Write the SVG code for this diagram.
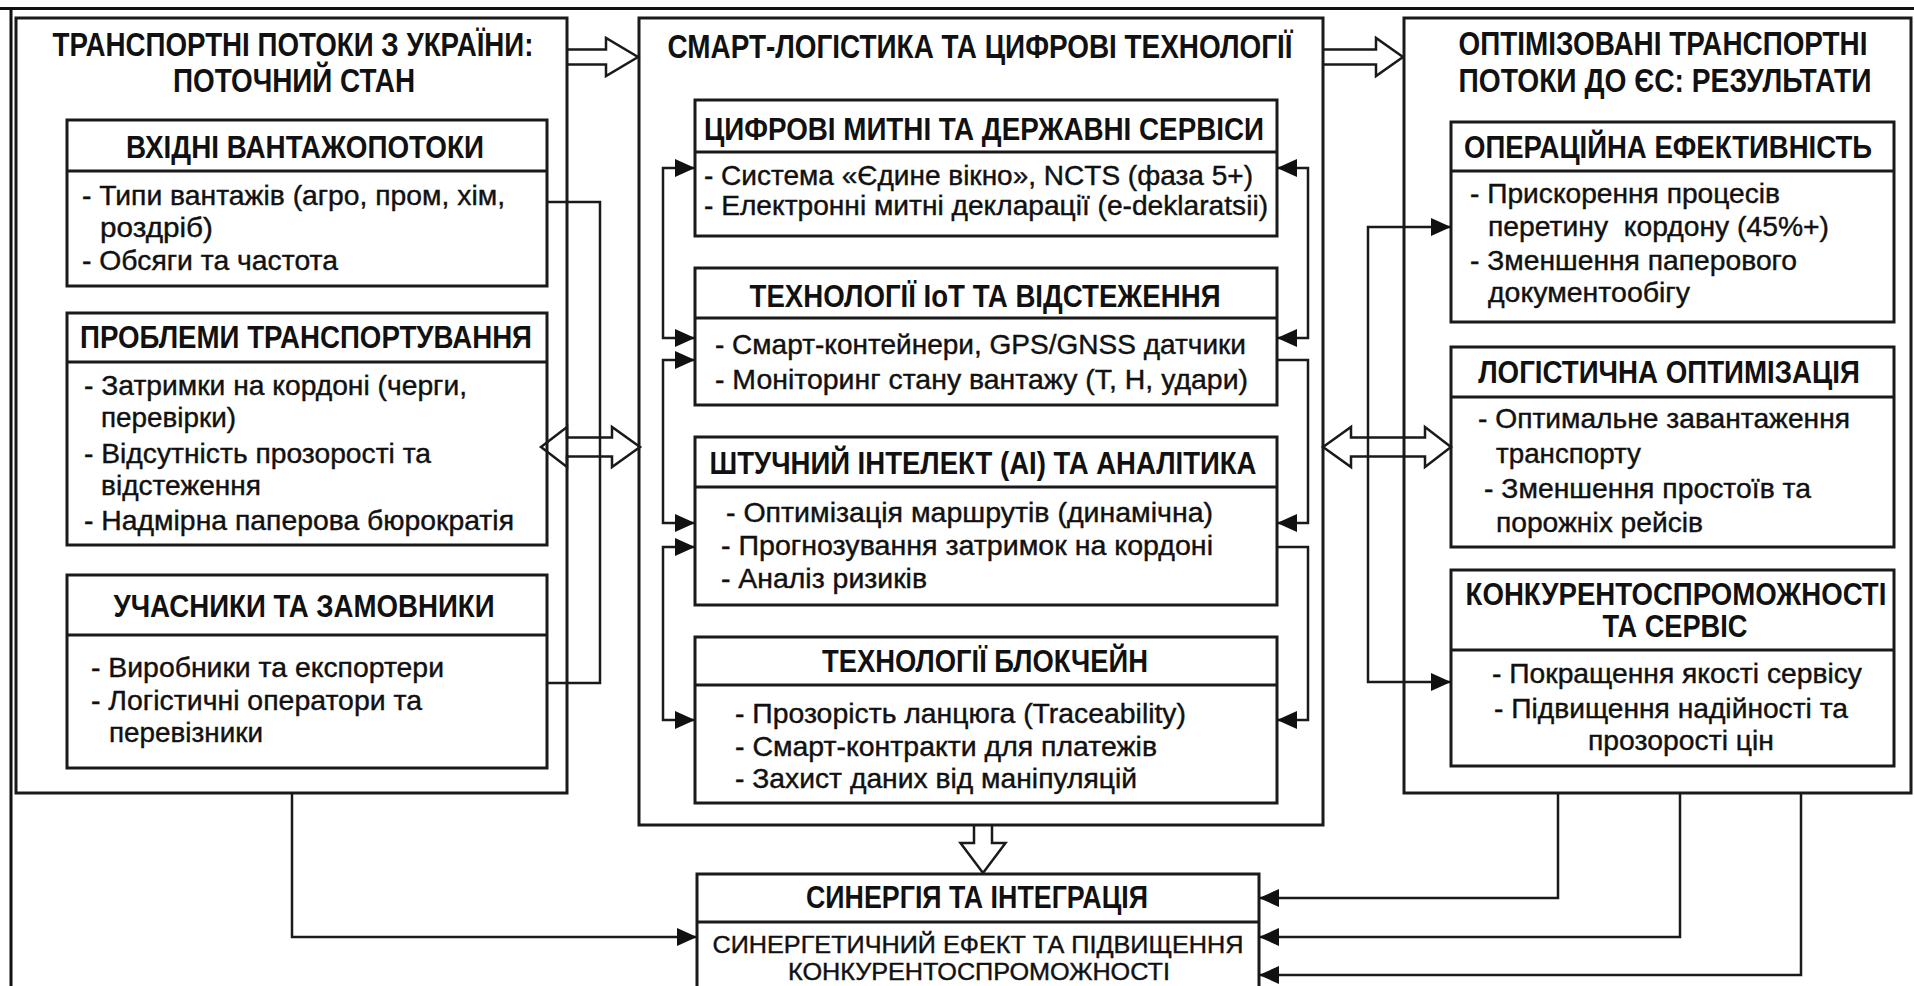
<svg xmlns="http://www.w3.org/2000/svg" width="1914" height="986" viewBox="0 0 1914 986">
<defs>
<style>
.frame{fill:none;stroke:#111;stroke-width:3}
.box{fill:#fff;stroke:#1a1a1a;stroke-width:3}
.dv{stroke:#1a1a1a;stroke-width:3}
text{font-family:"Liberation Sans Narrow","Liberation Sans",Arial,sans-serif;fill:#111}
.t{font-size:34px;font-weight:bold;text-anchor:middle}
.h{font-size:31px;font-weight:bold;text-anchor:middle}
.b{font-size:27.5px;stroke:#111;stroke-width:0.4}
.bc{font-size:27.5px;text-anchor:middle;stroke:#111;stroke-width:0.4}
.bs{font-size:24px;text-anchor:middle;stroke:#111;stroke-width:0.4}
.c{fill:none;stroke:#1a1a1a;stroke-width:2.5}
.fat{fill:none;stroke:#1a1a1a;stroke-width:2.5;stroke-linejoin:miter}
</style>
<marker id="ah" markerUnits="userSpaceOnUse" markerWidth="20" markerHeight="18" refX="20" refY="9" orient="auto-start-reverse" viewBox="0 0 20 18"><path d="M0,0 L20,9 L0,18 Z" fill="#111"/></marker>
</defs>
<rect width="1914" height="986" fill="#fff"/>
<g id="frame">
<line class="frame" x1="0" y1="8.5" x2="1914" y2="8.5"/>
<line class="frame" x1="11" y1="7" x2="11" y2="986"/>
</g>

<g id="left-box">
<rect class="box" x="16" y="18" width="551" height="775"/>
<text class="t" x="293" y="56" textLength="481" lengthAdjust="spacingAndGlyphs">ТРАНСПОРТНІ ПОТОКИ З УКРАЇНИ:</text>
<text class="t" x="294" y="92" textLength="242" lengthAdjust="spacingAndGlyphs">ПОТОЧНИЙ СТАН</text>
</g>
<g id="left-inputs">
<rect class="box" x="67" y="120" width="480" height="166"/>
<line class="dv" x1="67" y1="171" x2="547" y2="171"/>
<text class="h" x="305" y="158" textLength="358" lengthAdjust="spacingAndGlyphs">ВХІДНІ ВАНТАЖОПОТОКИ</text>
<text class="b" x="82" y="205" textLength="423" lengthAdjust="spacingAndGlyphs">- Типи вантажів (агро, пром, хім,</text>
<text class="b" x="100" y="237" textLength="113" lengthAdjust="spacingAndGlyphs">роздріб)</text>
<text class="b" x="82" y="270" textLength="256" lengthAdjust="spacingAndGlyphs">- Обсяги та частота</text>
</g>
<g id="left-problems">
<rect class="box" x="67" y="313" width="480" height="232"/>
<line class="dv" x1="67" y1="362" x2="547" y2="362"/>
<text class="h" x="306" y="348" textLength="452" lengthAdjust="spacingAndGlyphs">ПРОБЛЕМИ ТРАНСПОРТУВАННЯ</text>
<text class="b" x="84" y="395" textLength="383" lengthAdjust="spacingAndGlyphs">- Затримки на кордоні (черги,</text>
<text class="b" x="101" y="427" textLength="135" lengthAdjust="spacingAndGlyphs">перевірки)</text>
<text class="b" x="84" y="463" textLength="347" lengthAdjust="spacingAndGlyphs">- Відсутність прозорості та</text>
<text class="b" x="101" y="495" textLength="160" lengthAdjust="spacingAndGlyphs">відстеження</text>
<text class="b" x="84" y="530" textLength="430" lengthAdjust="spacingAndGlyphs">- Надмірна паперова бюрократія</text>
</g>
<g id="left-actors">
<rect class="box" x="67" y="575" width="480" height="193"/>
<line class="dv" x1="67" y1="635" x2="547" y2="635"/>
<text class="h" x="304" y="617" textLength="381" lengthAdjust="spacingAndGlyphs">УЧАСНИКИ ТА ЗАМОВНИКИ</text>
<text class="b" x="91" y="677" textLength="353" lengthAdjust="spacingAndGlyphs">- Виробники та експортери</text>
<text class="b" x="91" y="710" textLength="331" lengthAdjust="spacingAndGlyphs">- Логістичні оператори та</text>
<text class="b" x="109" y="742" textLength="154" lengthAdjust="spacingAndGlyphs">перевізники</text>
</g>

<g id="mid-box">
<rect class="box" x="639" y="18" width="684" height="807"/>
<text class="t" x="980" y="58" textLength="625" lengthAdjust="spacingAndGlyphs">СМАРТ-ЛОГІСТИКА ТА ЦИФРОВІ ТЕХНОЛОГІЇ</text>
</g>
<g id="mid-customs">
<rect class="box" x="695" y="100" width="582" height="136"/>
<line class="dv" x1="695" y1="152" x2="1277" y2="152"/>
<text class="h" x="984" y="140" textLength="560" lengthAdjust="spacingAndGlyphs">ЦИФРОВІ МИТНІ ТА ДЕРЖАВНІ СЕРВІСИ</text>
<text class="b" x="704" y="185" textLength="549" lengthAdjust="spacingAndGlyphs">- Система «Єдине вікно», NCTS (фаза 5+)</text>
<text class="b" x="704" y="215" textLength="564" lengthAdjust="spacingAndGlyphs">- Електронні митні декларації (e-deklaratsii)</text>
</g>
<g id="mid-iot">
<rect class="box" x="695" y="268" width="582" height="137"/>
<line class="dv" x1="695" y1="318" x2="1277" y2="318"/>
<text class="h" x="985" y="307" textLength="471" lengthAdjust="spacingAndGlyphs">ТЕХНОЛОГІЇ IoT ТА ВІДСТЕЖЕННЯ</text>
<text class="b" x="715" y="354" textLength="531" lengthAdjust="spacingAndGlyphs">- Смарт-контейнери, GPS/GNSS датчики</text>
<text class="b" x="715" y="389" textLength="533" lengthAdjust="spacingAndGlyphs">- Моніторинг стану вантажу (Т, Н, удари)</text>
</g>
<g id="mid-ai">
<rect class="box" x="695" y="437" width="582" height="168"/>
<line class="dv" x1="695" y1="487" x2="1277" y2="487"/>
<text class="h" x="983" y="474" textLength="547" lengthAdjust="spacingAndGlyphs">ШТУЧНИЙ ІНТЕЛЕКТ (AI) ТА АНАЛІТИКА</text>
<text class="b" x="726" y="522" textLength="487" lengthAdjust="spacingAndGlyphs">- Оптимізація маршрутів (динамічна)</text>
<text class="b" x="721" y="555" textLength="492" lengthAdjust="spacingAndGlyphs">- Прогнозування затримок на кордоні</text>
<text class="b" x="721" y="588" textLength="206" lengthAdjust="spacingAndGlyphs">- Аналіз ризиків</text>
</g>
<g id="mid-blockchain">
<rect class="box" x="695" y="637" width="582" height="166"/>
<line class="dv" x1="695" y1="685" x2="1277" y2="685"/>
<text class="h" x="985" y="672" textLength="326" lengthAdjust="spacingAndGlyphs">ТЕХНОЛОГІЇ БЛОКЧЕЙН</text>
<text class="b" x="735" y="723" textLength="451" lengthAdjust="spacingAndGlyphs">- Прозорість ланцюга (Traceability)</text>
<text class="b" x="735" y="756" textLength="422" lengthAdjust="spacingAndGlyphs">- Смарт-контракти для платежів</text>
<text class="b" x="735" y="788" textLength="402" lengthAdjust="spacingAndGlyphs">- Захист даних від маніпуляцій</text>
</g>

<g id="right-box">
<rect class="box" x="1404" y="18" width="507" height="775"/>
<text class="t" transform="translate(1663 55) scale(0.8 1)" x="0" y="0" textLength="511" lengthAdjust="spacingAndGlyphs">ОПТІМІЗОВАНІ ТРАНСПОРТНІ</text>
<text class="t" transform="translate(1665 92) scale(0.8 1)" x="0" y="0" textLength="516" lengthAdjust="spacingAndGlyphs">ПОТОКИ ДО ЄС: РЕЗУЛЬТАТИ</text>
</g>
<g id="right-efficiency">
<rect class="box" x="1451" y="122" width="443" height="200"/>
<line class="dv" x1="1451" y1="171" x2="1894" y2="171"/>
<text class="h" transform="translate(1668 158) scale(0.8 1)" x="0" y="0" textLength="510" lengthAdjust="spacingAndGlyphs">ОПЕРАЦІЙНА ЕФЕКТИВНІСТЬ</text>
<text class="b" x="1470" y="203" textLength="310" lengthAdjust="spacingAndGlyphs">- Прискорення процесів</text>
<text class="b" x="1488" y="236" textLength="341" lengthAdjust="spacingAndGlyphs" xml:space="preserve">перетину  кордону (45%+)</text>
<text class="b" x="1470" y="270" textLength="327" lengthAdjust="spacingAndGlyphs">- Зменшення паперового</text>
<text class="b" x="1488" y="302" textLength="202" lengthAdjust="spacingAndGlyphs">документообігу</text>
</g>
<g id="right-optimization">
<rect class="box" x="1451" y="347" width="443" height="200"/>
<line class="dv" x1="1451" y1="397" x2="1894" y2="397"/>
<text class="h" transform="translate(1669 383) scale(0.8 1)" x="0" y="0" textLength="477" lengthAdjust="spacingAndGlyphs">ЛОГІСТИЧНА ОПТИМІЗАЦІЯ</text>
<text class="b" x="1478" y="428" textLength="372" lengthAdjust="spacingAndGlyphs">- Оптимальне завантаження</text>
<text class="b" x="1496" y="463" textLength="145" lengthAdjust="spacingAndGlyphs">транспорту</text>
<text class="b" x="1484" y="498" textLength="327" lengthAdjust="spacingAndGlyphs">- Зменшення простоїв та</text>
<text class="b" x="1496" y="532" textLength="207" lengthAdjust="spacingAndGlyphs">порожніх рейсів</text>
</g>
<g id="right-competitiveness">
<rect class="box" x="1451" y="570" width="443" height="196"/>
<line class="dv" x1="1451" y1="650" x2="1894" y2="650"/>
<text class="h" transform="translate(1676 605) scale(0.8 1)" x="0" y="0" textLength="526" lengthAdjust="spacingAndGlyphs">КОНКУРЕНТОСПРОМОЖНОСТІ</text>
<text class="h" x="1675" y="637" textLength="145" lengthAdjust="spacingAndGlyphs">ТА СЕРВІС</text>
<text class="bc" x="1677" y="683" textLength="370" lengthAdjust="spacingAndGlyphs">- Покращення якості сервісу</text>
<text class="bc" x="1671" y="718" textLength="354" lengthAdjust="spacingAndGlyphs">- Підвищення надійності та</text>
<text class="bc" x="1681" y="750" textLength="186" lengthAdjust="spacingAndGlyphs">прозорості цін</text>
</g>

<g id="synergy">
<rect class="box" x="697" y="874" width="562" height="130"/>
<line class="dv" x1="697" y1="922" x2="1259" y2="922"/>
<text class="h" x="977" y="908" textLength="342" lengthAdjust="spacingAndGlyphs">СИНЕРГІЯ ТА ІНТЕГРАЦІЯ</text>
<text class="bs" x="978" y="953" textLength="531" lengthAdjust="spacingAndGlyphs">СИНЕРГЕТИЧНИЙ ЕФЕКТ ТА ПІДВИЩЕННЯ</text>
<text class="bs" x="979" y="980" textLength="382" lengthAdjust="spacingAndGlyphs">КОНКУРЕНТОСПРОМОЖНОСТІ</text>
</g>

<g id="connectors">
<polyline class="c" points="547,202 600,202 600,683 547,683"/>
<path class="c" d="M695,168 L663,168 L663,338 L695,338" marker-start="url(#ah)" marker-end="url(#ah)"/>
<path class="c" d="M695,360 L663,360 L663,523 L695,523" marker-start="url(#ah)" marker-end="url(#ah)"/>
<path class="c" d="M695,547 L663,547 L663,720 L695,720" marker-start="url(#ah)" marker-end="url(#ah)"/>
<path class="c" d="M1277,168 L1308,168 L1308,338 L1277,338" marker-start="url(#ah)" marker-end="url(#ah)"/>
<path class="c" d="M1277,360 L1308,360 L1308,523 L1277,523" marker-end="url(#ah)"/>
<path class="c" d="M1277,547 L1308,547 L1308,720 L1277,720" marker-end="url(#ah)"/>
<path class="c" d="M1451,227 L1368,227 L1368,682 L1451,682" marker-start="url(#ah)" marker-end="url(#ah)"/>
<path class="c" d="M292,793 L292,937 L697,937" marker-end="url(#ah)"/>
<path class="c" d="M1558,793 L1558,898 L1259,898" marker-end="url(#ah)"/>
<path class="c" d="M1680,793 L1680,937 L1259,937" marker-end="url(#ah)"/>
<path class="c" d="M1801,793 L1801,975 L1259,975" marker-end="url(#ah)"/>
<path class="fat" d="M567,49.5 L606,49.5 L606,38 L638,57 L606,76 L606,64.5 L567,64.5"/>
<path class="fat" d="M1323,49.5 L1376,49.5 L1376,38 L1403,57 L1376,76 L1376,64.5 L1323,64.5"/>
<path class="fat" d="M541,447 L567,427 L567,437.5 L612,437.5 L612,427 L640,447 L612,467 L612,456.5 L567,456.5 L567,467 Z"/>
<path class="fat" d="M1323,447 L1351,427 L1351,437.5 L1425,437.5 L1425,427 L1451,447 L1425,467 L1425,456.5 L1351,456.5 L1351,467 Z"/>
<path class="fat" d="M974,825 L974,843 L960.5,843 L983,873 L1005.5,843 L992,843 L992,825"/>
</g>
</svg>
